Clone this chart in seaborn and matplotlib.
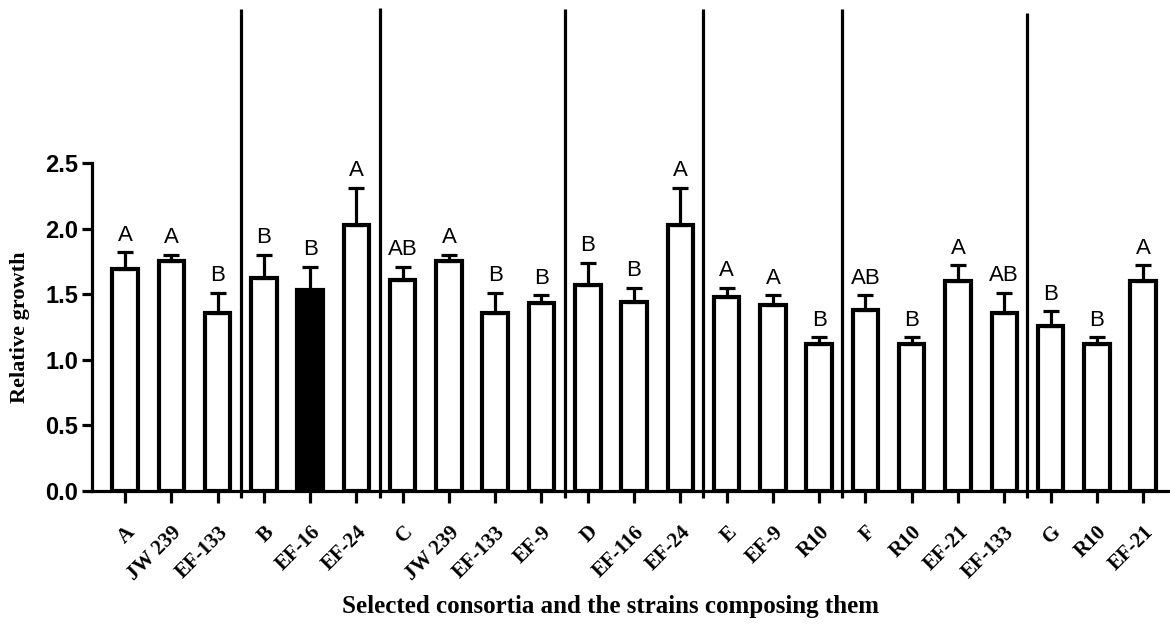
import numpy as np
import pandas as pd
import matplotlib
matplotlib.use("Agg")
import matplotlib.pyplot as plt
import seaborn as sns

# ---- data ----
strains = ["A", "JW 239", "EF-133", "B", "EF-16", "EF-24", "C", "JW 239", "EF-133", "EF-9",
           "D", "EF-116", "EF-24", "E", "EF-9", "R10", "F", "R10", "EF-21", "EF-133",
           "G", "R10", "EF-21"]
growth = [1.69, 1.75, 1.36, 1.62, 1.53, 2.03, 1.61, 1.75, 1.36, 1.43,
          1.57, 1.44, 2.03, 1.48, 1.42, 1.12, 1.38, 1.12, 1.60, 1.36,
          1.26, 1.12, 1.60]
err_top = [1.82, 1.80, 1.51, 1.80, 1.71, 2.31, 1.71, 1.80, 1.51, 1.49,
           1.74, 1.55, 2.31, 1.55, 1.49, 1.17, 1.49, 1.17, 1.72, 1.51,
           1.37, 1.17, 1.72]
letters = ["A", "A", "B", "B", "B", "A", "AB", "A", "B", "B",
           "B", "B", "A", "A", "A", "B", "AB", "B", "A", "AB",
           "B", "B", "A"]
fills = ["open"] * 23
fills[4] = "solid"
group_sizes = [3, 3, 4, 3, 3, 4, 3]

df = pd.DataFrame({"pos": np.arange(len(strains)), "growth": growth, "fill": fills})
sd = np.array(err_top) - np.array(growth)

sns.set_theme(style="ticks")
plt.rcParams["font.family"] = ["Liberation Serif", "DejaVu Serif"]
plt.rcParams.update({"text.color": "black", "axes.labelcolor": "black",
                     "xtick.color": "black", "ytick.color": "black",
                     "axes.edgecolor": "black"})

fig = plt.figure(figsize=(11.7, 6.31), dpi=100)
ax = fig.add_axes([0.0786, 0.2219, 0.9214, 0.7781])

lw = 2.3
sns.barplot(data=df, x="pos", y="growth", hue="fill", dodge=False,
            palette={"open": "white", "solid": "black"}, edgecolor="black",
            linewidth=3.0, width=0.55, legend=False, ax=ax, errorbar=None)

ax.errorbar(df["pos"], growth, yerr=[np.zeros(len(sd)), sd], fmt="none",
            ecolor="black", elinewidth=lw, capsize=6, capthick=lw, zorder=3)

for i, (t, lab) in enumerate(zip(err_top, letters)):
    ax.text(i, t + 0.05, lab, ha="center", va="bottom", fontsize=16,
            family="Liberation Sans", color="black")

# group separators
edges = np.cumsum(group_sizes)[:-1] - 0.5
tops = [3.67, 3.68, 3.67, 3.67, 3.67, 3.64]
for e, top in zip(edges, tops):
    ax.vlines(e, -0.055, top, color="black", lw=lw, clip_on=False)

ax.set_xlim(-0.713, 22.58)
ax.set_ylim(0, 3.742)
ax.set_yticks([0, 0.5, 1.0, 1.5, 2.0, 2.5])
ax.set_yticklabels(["0.0", "0.5", "1.0", "1.5", "2.0", "2.5"],
                   fontsize=17, fontweight="bold", family="Liberation Sans")
ax.set_xticks(np.arange(len(strains)))
ax.set_xticklabels(strains, rotation=45, ha="right", rotation_mode="anchor",
                   fontsize=15, fontweight="bold")
ax.tick_params(axis="y", length=7, width=lw, pad=3)
ax.tick_params(axis="x", length=8.5, width=lw, pad=14)

sns.despine(ax=ax)
ax.spines["left"].set_bounds(0, 2.5)
ax.spines["left"].set_linewidth(lw)
ax.spines["bottom"].set_linewidth(lw)

ax.set_xlabel("")
ax.set_ylabel("Relative growth", fontsize=16, fontweight="bold")
ax.yaxis.set_label_coords(-0.0575, 0.334)

fig.text(610 / 1170, 1 - 606 / 631, "Selected consortia and the strains composing them",
         ha="center", va="center", fontsize=18, fontweight="bold")

fig.savefig("out.png", dpi=100, facecolor="white")
